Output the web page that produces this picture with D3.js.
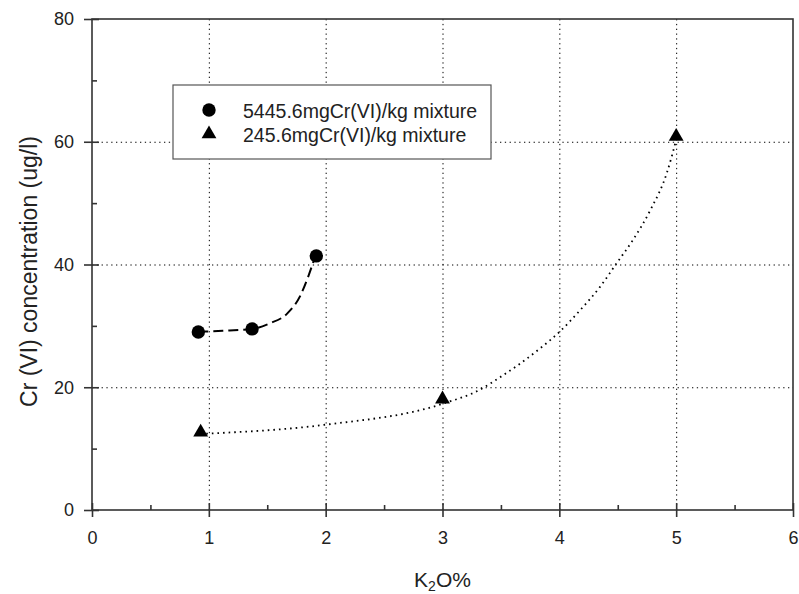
<!DOCTYPE html>
<html>
<head>
<meta charset="utf-8">
<script src="https://cdn.jsdelivr.net/npm/d3@7"></script>
<style>
body{margin:0;background:#fff;}
text{font-family:"Liberation Sans",Arial,Helvetica,sans-serif;fill:#222;}
</style>
</head>
<body>
<div id="chart"></div>
<script>
// measured points
var k2oHigh=[0.91,1.37,1.92];
var crHigh=[29.0,29.5,41.4];
var k2oLow=[0.93,3.0,5.0];
var crLow=[12.5,17.9,60.7];

// fitted curves
var fitHighX=[0.91,1.12,1.37,1.52,1.67,1.78,1.85,1.91];
var fitHighY=[29.05,29.2,29.5,30.4,32.0,34.8,38.0,41.3];
var fitLowX=[0.93,2.0,3.0,3.32,3.49,3.66,3.84,4.0,4.18,4.35,4.49,4.63,4.78,4.92,5.0];
var fitLowY=[12.4,13.9,17.3,19.6,21.6,23.8,26.4,29.0,32.6,36.4,40.2,44.0,48.9,54.9,60.3];

var xTicks=[0,1,2,3,4,5,6];
var yTicks=[0,20,40,60,80];
var legendLabels=['5445.6mgCr(VI)/kg mixture','245.6mgCr(VI)/kg mixture'];

var margin={left:92,top:19,right:6,bottom:84};
var W=799,H=594;
var w=W-margin.left-margin.right, h=H-margin.top-margin.bottom;

var svg=d3.select('#chart').append('svg').attr('width',W).attr('height',H);
var g=svg.append('g').attr('transform','translate('+margin.left+','+margin.top+')');

var x=d3.scaleLinear().domain([0,6]).range([0,w]);
var y=d3.scaleLinear().domain([0,80]).range([h,0]);

//grid
g.append('g').attr('transform','translate(0,'+h+')')
	.call(d3.axisBottom(x).tickValues([1,2,3,4,5]).tickSize(-h).tickFormat(''))
	.call(function(s){s.select('.domain').remove();s.selectAll('line').attr('stroke','#000').attr('stroke-dasharray','1.3,3.5');});
g.append('g')
	.call(d3.axisLeft(y).tickValues([20,40,60]).tickSize(-w).tickFormat(''))
	.call(function(s){s.select('.domain').remove();s.selectAll('line').attr('stroke','#000').attr('stroke-dasharray','1.3,3.5');});

//frame
g.append('rect').attr('width',w).attr('height',h).attr('fill','none').attr('stroke','#333').attr('stroke-width',1.6);

//axes
function styleAxis(s){
	s.select('.domain').remove();
	s.selectAll('line').attr('stroke','#333').attr('stroke-width',1.6);
	s.selectAll('text').attr('font-size','18px').style('font-family','"Liberation Sans",Arial,sans-serif').attr('fill','#222');
}
var xa=g.append('g').attr('transform','translate(0,'+h+')');
xa.append('g').call(d3.axisBottom(x).tickValues(xTicks).tickSize(7).tickPadding(14).tickFormat(d3.format('d'))).call(styleAxis);
xa.append('g').call(d3.axisBottom(x).tickValues(xTicks).tickSize(-7).tickFormat('')).call(styleAxis);
xa.append('g').call(d3.axisBottom(x).tickValues([0.5,1.5,2.5,3.5,4.5,5.5]).tickSize(-5).tickFormat('')).call(styleAxis);

var ya=g.append('g');
ya.append('g').call(d3.axisLeft(y).tickValues(yTicks).tickSize(8).tickPadding(10).tickFormat(d3.format('d'))).call(styleAxis);
ya.append('g').call(d3.axisLeft(y).tickValues(yTicks).tickSize(-7).tickFormat('')).call(styleAxis);
ya.append('g').call(d3.axisLeft(y).tickValues([10,30,50,70]).tickSize(-5).tickFormat('')).call(styleAxis);

//axis titles
var xt=svg.append('text').attr('x',margin.left+x(3)).attr('y',587).attr('text-anchor','middle').attr('font-size','21px');
xt.append('tspan').text('K');
xt.append('tspan').attr('font-size','14px').attr('dy',4).text('2');
xt.append('tspan').attr('dy',-4).text('O%');

svg.append('text').attr('transform','translate(37,'+(margin.top+h/2+7)+') rotate(-90)')
	.attr('text-anchor','middle').attr('font-size','23px').text('Cr (VI) concentration (ug/l)');

//fit curves
var line=d3.line().curve(d3.curveMonotoneX).x(function(d){return x(d[0]);}).y(function(d){return y(d[1]);});
g.append('path').datum(d3.zip(fitHighX,fitHighY)).attr('d',line)
	.attr('fill','none').attr('stroke','#000').attr('stroke-width',2).attr('stroke-dasharray','10,5');
g.append('path').datum(d3.zip(fitLowX,fitLowY)).attr('d',line)
	.attr('fill','none').attr('stroke','#000').attr('stroke-width',1.8).attr('stroke-dasharray','1.6,4');

//markers
var circ=d3.symbol().type(d3.symbolCircle).size(140);
var tri=d3.symbol().type(d3.symbolTriangle).size(95);
g.selectAll('.pt-high').data(d3.zip(k2oHigh,crHigh)).enter().append('path')
	.attr('d',circ).attr('fill','#000')
	.attr('transform',function(d){return 'translate('+x(d[0])+','+y(d[1])+')';});
g.selectAll('.pt-low').data(d3.zip(k2oLow,crLow)).enter().append('path')
	.attr('d',tri).attr('fill','#000')
	.attr('transform',function(d){return 'translate('+x(d[0])+','+(y(d[1])-1)+')';});

//legend
var lg=svg.append('g').attr('transform','translate(173,85)');
lg.append('rect').attr('width',318).attr('height',74).attr('fill','#fff').attr('stroke','#555').attr('stroke-width',1.2);
var items=lg.selectAll('.item').data(legendLabels).enter().append('g')
	.attr('transform',function(d,i){return 'translate(0,'+(25+i*24)+')';});
items.append('path').attr('d',function(d,i){return i?tri():circ();}).attr('fill','#000')
	.attr('transform','translate(36,0)');
items.append('text').attr('x',70).attr('y',8).attr('font-size','19.5px').text(function(d){return d;});
</script>
</body>
</html>
